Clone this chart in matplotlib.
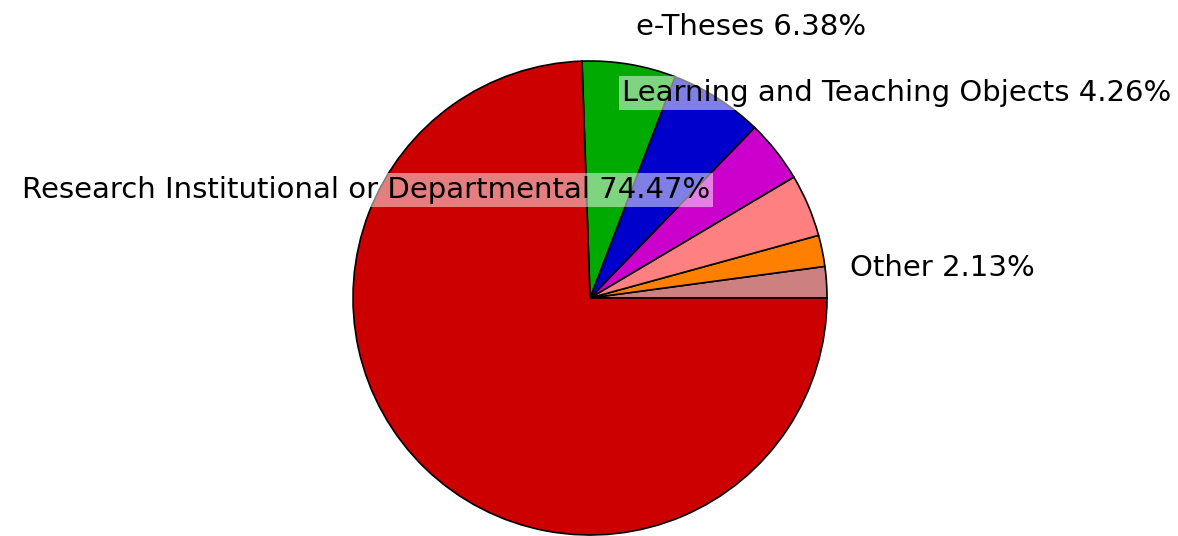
import matplotlib
matplotlib.use("Agg")
import matplotlib.pyplot as plt

categories = ["Other", "Cat B", "Cat C", "Learning and Teaching Objects", "Cat E",
              "e-Theses", "Research Institutional or Departmental"]
shares = [2.13, 2.13, 4.26, 4.26, 6.38, 6.38, 74.47]
colors = ["#cc8080", "#ff8000", "#ff8080", "#cc00cc", "#0000cc", "#00aa00", "#cc0000"]

W, H = 1178, 536
fig = plt.figure(figsize=(W / 100, H / 100), dpi=100)
cx, cy, r = 590, 298, 237
ax = fig.add_axes([(cx - r) / W, (H - cy - r) / H, 2 * r / W, 2 * r / H])
ax.pie(shares, colors=colors, startangle=0, counterclock=True,
       wedgeprops=dict(edgecolor="black", linewidth=1.2), frame=False)
ax.set_xlim(-1, 1)
ax.set_ylim(-1, 1)
ax.set_aspect("equal")
ax.axis("off")

fs = 21
def lab(i):
    return f"{categories[i]} {shares[i]:.2f}%"

ax.text(1.097, 0.127, lab(0), fontsize=fs, ha="left", va="center")
ax.text(0.194, 1.143, lab(5), fontsize=fs, ha="left", va="center")
box = dict(facecolor="white", edgecolor="none", alpha=0.5, pad=2)
ax.text(0.506, 0.456, lab(6), fontsize=fs, ha="right", va="center", bbox=box)
ax.text(0.135, 0.865, lab(3), fontsize=fs, ha="left", va="center", bbox=box)

fig.savefig("out.png", dpi=100)
